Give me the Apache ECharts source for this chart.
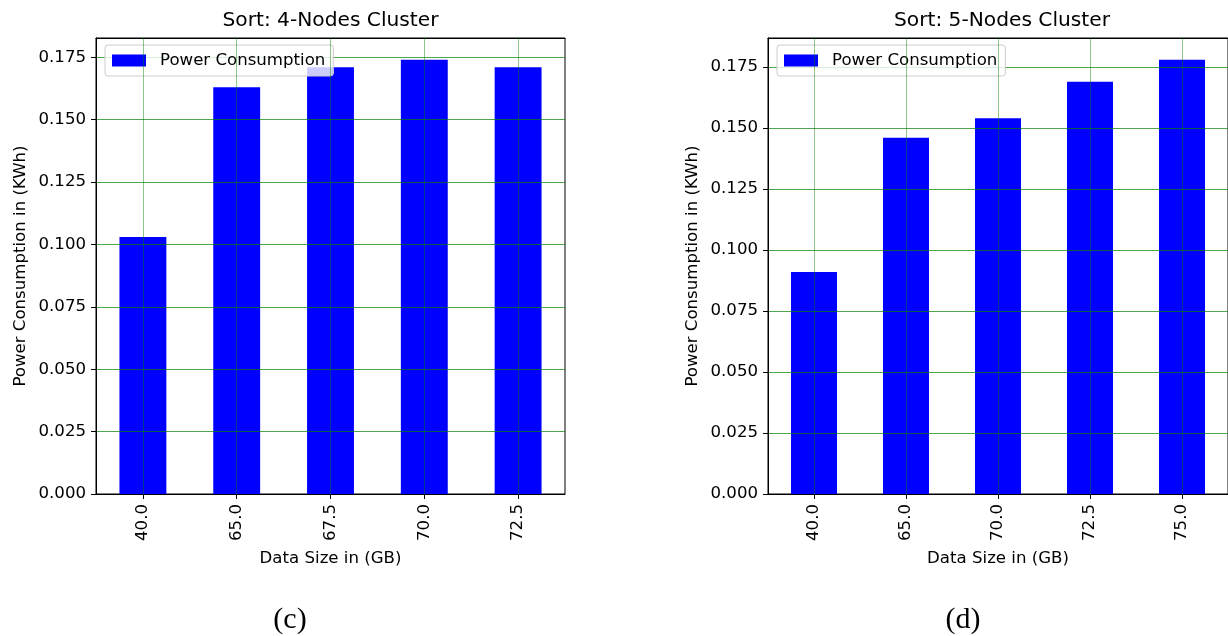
<!DOCTYPE html>
<html>
<head>
<meta charset="utf-8">
<script src="https://cdn.jsdelivr.net/npm/echarts@6/dist/echarts.min.js"></script>
<style>html,body{margin:0;padding:0;background:#fff;}#c{width:1228px;height:636px;}</style>
</head>
<body>
<div id="c"></div>
<script>
// ---- data ----
const cats4 = ['40.0', '65.0', '67.5', '70.0', '72.5'];
const vals4 = [0.103, 0.163, 0.171, 0.174, 0.171];
const cats5 = ['40.0', '65.0', '70.0', '72.5', '75.0'];
const vals5 = [0.091, 0.146, 0.154, 0.169, 0.178];
const titles = ['Sort: 4-Nodes Cluster', 'Sort: 5-Nodes Cluster'];
const captions = ['(c)', '(d)'];
const seriesName = 'Power Consumption';
const xName = 'Data Size in (GB)';
const yName = 'Power Consumption in (KWh)';
const yStep = 0.025;

const FONT = 'DejaVu Sans';
const FS = 16.6;
const chart = echarts.init(document.getElementById('c'), null, {renderer: 'canvas'});

const grids = [
  {left: 96, top: 38, width: 469, height: 456},
  {left: 768, top: 38, width: 468, height: 456}
];
const catsList = [cats4, cats5];
const valsList = [vals4, vals5];

function xAxisFor(i) {
  return {
    type: 'category', gridIndex: i, data: catsList[i], z: 3,
    name: xName, nameLocation: 'middle', nameGap: 56,
    nameTextStyle: {fontFamily: FONT, fontSize: FS, color: '#000'},
    axisLine: {show: true, lineStyle: {color: '#000', width: 1}},
    axisTick: {show: true, alignWithLabel: true, length: 5, lineStyle: {color: '#000'}},
    axisLabel: {rotate: 90, margin: 10, fontFamily: FONT, fontSize: FS, color: '#000'},
    splitLine: {show: false}
  };
}
function topAxisFor(i) {
  return {
    type: 'category', gridIndex: i, data: catsList[i], position: 'top', z: 4,
    axisLine: {show: true, lineStyle: {color: '#000', width: 1}},
    axisTick: {show: false}, axisLabel: {show: false}, splitLine: {show: false}
  };
}
function yAxisFor(i) {
  const mx = Math.max.apply(null, valsList[i]) * 1.05;
  return {
    type: 'value', gridIndex: i, min: 0, max: mx, interval: yStep, z: 3,
    name: yName, nameLocation: 'middle', nameGap: 67,
    nameTextStyle: {fontFamily: FONT, fontSize: FS, color: '#000'},
    axisLine: {show: true, lineStyle: {color: '#000', width: 1}},
    axisTick: {show: true, length: 5, lineStyle: {color: '#000'}},
    axisLabel: {margin: 10, fontFamily: FONT, fontSize: FS, color: '#000', showMaxLabel: false,
      formatter: v => v.toFixed(3)},
    splitLine: {show: true, lineStyle: {color: 'rgba(0,128,0,0.7)', width: 1}}
  };
}
function seriesFor(i) {
  return {
    type: 'bar', name: seriesName, xAxisIndex: i, yAxisIndex: i,
    data: valsList[i], barWidth: '50%',
    itemStyle: {color: '#0000ff'},
    markLine: {
      silent: true, symbol: ['none', 'none'], label: {show: false},
      lineStyle: {color: 'rgba(0,128,0,0.45)', width: 1, type: 'solid'},
      emphasis: {disabled: true},
      animation: false,
      data: catsList[i].map(c => ({xAxis: c}))
    }
  };
}
function legendFor(i) {
  return {
    left: grids[i].left + 9, top: 45, orient: 'horizontal',
    data: [seriesName], icon: 'rect', itemWidth: 34, itemHeight: 12,
    padding: [7, 8, 7, 7], borderColor: '#cccccc', borderWidth: 1, borderRadius: 3,
    backgroundColor: 'rgba(255,255,255,0.8)', selectedMode: false,
    textStyle: {fontFamily: FONT, fontSize: FS, color: '#000', padding: [0, 0, 0, 9]}
  };
}

const graphics = [];
for (let i = 0; i < 2; i++) {
  const cx = grids[i].left + grids[i].width / 2;
  graphics.push({type: 'text', x: cx, y: 21, silent: true,
    style: {text: titles[i], font: '20.2px "DejaVu Sans"', fill: '#000', align: 'center', verticalAlign: 'middle'}});
}
graphics.push({type: 'text', x: 290, y: 620, silent: true,
  style: {text: captions[0], font: '30px "Liberation Serif"', fill: '#000', align: 'center', verticalAlign: 'middle'}});
graphics.push({type: 'text', x: 963, y: 620, silent: true,
  style: {text: captions[1], font: '30px "Liberation Serif"', fill: '#000', align: 'center', verticalAlign: 'middle'}});

chart.setOption({
  animation: false,
  backgroundColor: '#fff',
  grid: grids.map(g => Object.assign({show: true, borderColor: '#000', borderWidth: 1, backgroundColor: 'transparent', containLabel: false}, g)),
  xAxis: [xAxisFor(0), xAxisFor(1), topAxisFor(0), topAxisFor(1)],
  yAxis: [yAxisFor(0), yAxisFor(1)],
  legend: [legendFor(0), legendFor(1)],
  series: [seriesFor(0), seriesFor(1)],
  graphic: graphics
});
</script>
</body>
</html>
